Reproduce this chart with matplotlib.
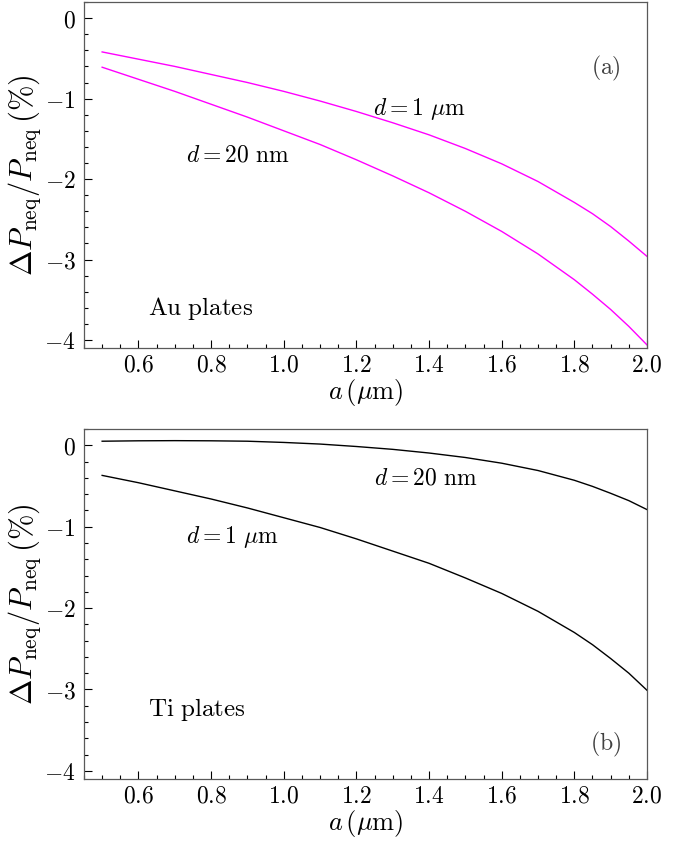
import matplotlib
matplotlib.use("Agg")
import matplotlib.pyplot as plt
from matplotlib.ticker import MultipleLocator, FuncFormatter

plt.rcParams['mathtext.fontset'] = 'cm'
plt.rcParams['font.family'] = 'serif'

# a (um)
a_vals = [0.5, 0.6, 0.7, 0.8, 0.9, 1.0, 1.1, 1.2, 1.3, 1.4, 1.5, 1.6, 1.7, 1.8, 1.85, 1.9, 1.95, 2.0]

# Au plates
au_d1um = [-0.42, -0.51, -0.60, -0.70, -0.80, -0.91, -1.03, -1.16, -1.30, -1.45, -1.62, -1.81, -2.03, -2.29, -2.43, -2.59, -2.77, -2.96]
au_d20nm = [-0.61, -0.76, -0.91, -1.07, -1.23, -1.40, -1.57, -1.76, -1.96, -2.17, -2.40, -2.65, -2.93, -3.25, -3.43, -3.62, -3.83, -4.06]

# Ti plates
ti_d20nm = [0.05, 0.055, 0.057, 0.055, 0.05, 0.035, 0.015, -0.015, -0.05, -0.095, -0.15, -0.22, -0.31, -0.43, -0.505, -0.59, -0.68, -0.79]
ti_d1um = [-0.37, -0.46, -0.56, -0.66, -0.77, -0.89, -1.01, -1.15, -1.30, -1.45, -1.63, -1.82, -2.04, -2.30, -2.45, -2.62, -2.80, -3.01]

xticks = [0.6, 0.8, 1.0, 1.2, 1.4, 1.6, 1.8, 2.0]
yticks = [0, -1, -2, -3, -4]

fig = plt.figure(figsize=(6.85, 8.47), dpi=100)
ax1 = fig.add_axes([0.1226, 0.589, 0.8219, 0.4086])
ax2 = fig.add_axes([0.1226, 0.0803, 0.8219, 0.4132])

def style(ax):
	ax.set_xlim(0.45, 2.0)
	ax.set_ylim(-4.1, 0.2)
	ax.set_xticks(xticks)
	ax.set_yticks(yticks)
	ax.xaxis.set_minor_locator(MultipleLocator(0.05))
	ax.yaxis.set_minor_locator(MultipleLocator(0.2))
	ax.xaxis.set_major_formatter(FuncFormatter(lambda v, p: r'$%.1f$' % v))
	ax.yaxis.set_major_formatter(FuncFormatter(lambda v, p: r'$%d$' % round(v)))
	ax.tick_params(which='both', direction='in', top=False, right=False, labelsize=17, colors='k')
	ax.tick_params(which='major', length=6, width=0.8)
	ax.tick_params(axis='x', which='major', pad=4)
	ax.tick_params(axis='y', which='major', pad=6)
	ax.tick_params(which='minor', length=3, width=0.8)
	for s in ax.spines.values():
		s.set_color('0.35')
		s.set_linewidth(0.9)
	ax.set_xlabel(r'$a\,(\mu\mathrm{m})$', fontsize=19, labelpad=0)
	ax.set_ylabel(r'$\Delta P_{\rm neq}/P_{\rm neq}\,(\%)$', fontsize=22, labelpad=1)

style(ax1)
ax1.plot(a_vals, au_d1um, color='#ff00ff', lw=1.0)
ax1.plot(a_vals, au_d20nm, color='#ff00ff', lw=1.0)
ax1.text(1.245, -1.20, r'$d = 1\ \mu\mathrm{m}$', fontsize=17)
ax1.text(0.732, -1.78, r'$d = 20\ \mathrm{nm}$', fontsize=17)
ax1.text(0.626, -3.69, r'$\mathrm{Au\ plates}$', fontsize=18)
ax1.text(1.887, -0.63, r'$\mathrm{(a)}$', fontsize=17, ha='center', va='center', color='0.25')

style(ax2)
ax2.plot(a_vals, ti_d20nm, color='k', lw=1.0)
ax2.plot(a_vals, ti_d1um, color='k', lw=1.0)
ax2.text(1.248, -0.48, r'$d = 20\ \mathrm{nm}$', fontsize=17)
ax2.text(0.732, -1.205, r'$d = 1\ \mu\mathrm{m}$', fontsize=17)
ax2.text(0.626, -3.32, r'$\mathrm{Ti\ plates}$', fontsize=18)
ax2.text(1.887, -3.67, r'$\mathrm{(b)}$', fontsize=17, ha='center', va='center', color='0.25')

fig.savefig('out.png', dpi=100)
